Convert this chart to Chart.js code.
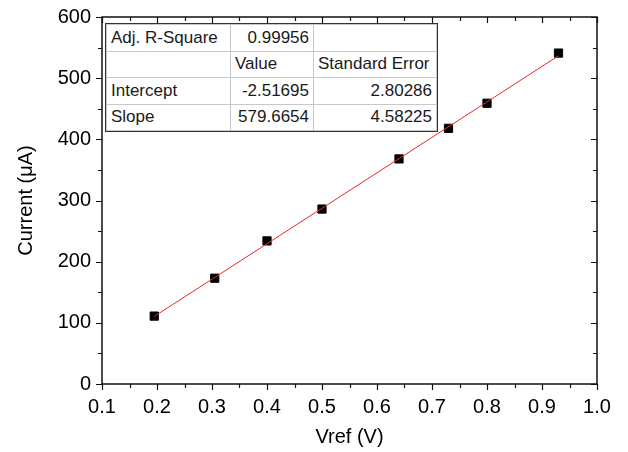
<!DOCTYPE html>
<html lang="en">
<head>
    <meta charset="UTF-8">
    <title>Current vs Vref</title>
    <script src="https://cdn.jsdelivr.net/npm/chart.js"></script>
    <style>
        body {
            margin: 0;
            background-color: #fff;
        }
        .wrap {
            position: relative;
            width: 628px;
            height: 452px;
        }
        #fit {
            position: absolute;
            left: 106px;
            top: 24px;
            width: 330px;
            border-collapse: collapse;
            table-layout: fixed;
            background: #fff;
            outline: 1px solid #333;
            font-family: "Liberation Sans", Arial, sans-serif;
            font-size: 17px;
            color: #1a1a1a;
        }
        #fit td {
            border: 1px solid #c8c8c8;
            height: 25.5px;
            padding: 0 4px;
            white-space: nowrap;
            overflow: hidden;
        }
        #fit td.n {
            text-align: right;
        }
    </style>
</head>
<body>
<div class="wrap">
    <canvas id="chart" width="628" height="452"></canvas>
    <table id="fit">
        <colgroup><col style="width:124px"><col style="width:83px"><col style="width:123px"></colgroup>
        <tr><td>Adj. R-Square</td><td class="n">0.99956</td><td></td></tr>
        <tr><td></td><td>Value</td><td>Standard Error</td></tr>
        <tr><td>Intercept</td><td class="n">-2.51695</td><td class="n">2.80286</td></tr>
        <tr><td>Slope</td><td class="n">579.6654</td><td class="n">4.58225</td></tr>
    </table>
</div>
<script>
    // measured points
    const vref = [0.195, 0.305, 0.40, 0.50, 0.64, 0.73, 0.80, 0.93];
    const current = [111, 173, 234, 286, 368, 418, 459, 541];

    // linear fit line ends
    const fitX = [0.195, 0.93];
    const fitY = [110.5, 536.6];

    // axis ticks
    const xTicks = [0.1, 0.2, 0.3, 0.4, 0.5, 0.6, 0.7, 0.8, 0.9, 1.0];
    const yTicks = [0, 100, 200, 300, 400, 500, 600];

    const tickFont = { family: '"Liberation Sans", Arial, sans-serif', size: 20 };

    // box round the plot with major + minor ticks (out on bottom/left, in on top/right)
    const frame = {
        id: 'frame',
        afterDraw(chart) {
            const { ctx, chartArea: a, scales: { x, y } } = chart;
            ctx.save();
            ctx.strokeStyle = '#111';
            ctx.lineWidth = 1.5;
            ctx.strokeRect(a.left, a.top, a.right - a.left, a.bottom - a.top);
            ctx.lineWidth = 1.2;
            ctx.beginPath();
            const xs = [];
            xTicks.forEach((v, i) => {
                xs.push([v, 6]);
                if (i < xTicks.length - 1) xs.push([(v + xTicks[i + 1]) / 2, 4]);
            });
            xs.forEach(([v, len]) => {
                const px = Math.round(x.getPixelForValue(v)) + 0.5;
                ctx.moveTo(px, a.bottom); ctx.lineTo(px, a.bottom + len);
                ctx.moveTo(px, a.top); ctx.lineTo(px, a.top + len);
            });
            const ys = [];
            yTicks.forEach((v, i) => {
                ys.push([v, 6]);
                if (i < yTicks.length - 1) ys.push([(v + yTicks[i + 1]) / 2, 4]);
            });
            ys.forEach(([v, len]) => {
                const py = Math.round(y.getPixelForValue(v)) + 0.5;
                ctx.moveTo(a.left, py); ctx.lineTo(a.left - len, py);
                ctx.moveTo(a.right, py); ctx.lineTo(a.right - len, py);
            });
            ctx.stroke();
            ctx.restore();
        }
    };

    const ctx = document.getElementById('chart').getContext('2d');
    const chart = new Chart(ctx, {
        type: 'scatter',
        data: {
            datasets: [
                {
                    label: 'Fit',
                    data: fitX.map((v, i) => ({ x: v, y: fitY[i] })),
                    showLine: true,
                    borderColor: '#e8282d',
                    borderWidth: 1,
                    pointRadius: 0,
                    order: 0
                },
                {
                    label: 'Current',
                    data: vref.map((v, i) => ({ x: v, y: current[i] })),
                    pointStyle: 'rect',
                    pointRadius: 5.8,
                    backgroundColor: '#000',
                    borderColor: '#000',
                    borderWidth: 1,
                    order: 1
                }
            ]
        },
        options: {
            responsive: false,
            animation: false,
            layout: { padding: { top: 17, right: 31, left: 0, bottom: 0 } },
            plugins: {
                legend: { display: false },
                tooltip: { enabled: false }
            },
            scales: {
                x: {
                    type: 'linear',
                    min: 0.1,
                    max: 1.0,
                    grid: { display: false, drawTicks: false },
                    border: { display: false },
                    afterBuildTicks: s => { s.ticks = xTicks.map(v => ({ value: v })); },
                    afterFit: s => { s.height = 68; },
                    ticks: {
                        font: tickFont,
                        color: '#000',
                        padding: 11,
                        maxRotation: 0,
                        autoSkip: false,
                        callback: v => v.toFixed(1)
                    },
                    title: {
                        display: true,
                        text: 'Vref (V)',
                        font: tickFont,
                        color: '#000',
                        padding: { top: 0, bottom: 3 }
                    }
                },
                y: {
                    min: 0,
                    max: 600,
                    grid: { display: false, drawTicks: false },
                    border: { display: false },
                    afterBuildTicks: s => { s.ticks = yTicks.map(v => ({ value: v })); },
                    afterFit: s => { s.width = 102; s.paddingTop = 0; s.paddingBottom = 0; },
                    ticks: {
                        font: tickFont,
                        color: '#000',
                        padding: 11,
                        autoSkip: false
                    },
                    title: {
                        display: true,
                        text: 'Current (\u03bcA)',
                        font: tickFont,
                        color: '#000',
                        padding: { top: 14, bottom: 0 }
                    }
                }
            }
        },
        plugins: [frame]
    });
</script>
</body>
</html>
